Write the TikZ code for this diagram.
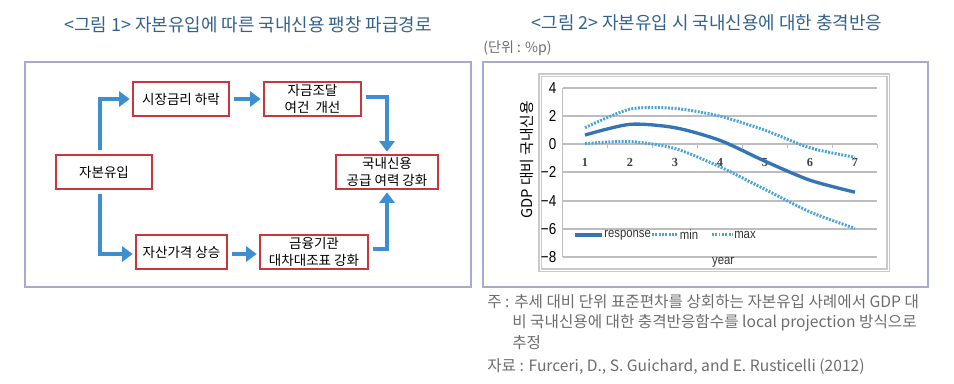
\documentclass[tikz,border=0pt]{standalone}
\usepackage{fontspec}
\setmainfont{Noto Sans CJK KR}
\newfontfamily\chartfont[FakeStretch=0.85]{Liberation Sans}
\newfontfamily\catfont{Liberation Serif}
\usetikzlibrary{arrows.meta}
\definecolor{titleblue}{HTML}{33628F}
\definecolor{framelilac}{HTML}{A9A9D2}
\definecolor{boxred}{HTML}{C8363E}
\definecolor{flowblue}{HTML}{3D8FD1}
\definecolor{noteg}{HTML}{6D6D6D}
\definecolor{gridg}{HTML}{BDBDBD}
\definecolor{respblue}{HTML}{3575B5}
\definecolor{bandblue}{HTML}{4BA3DC}
\tikzset{%
  pathbox/.style={draw=boxred, line width=0.6pt, fill=white, align=center, inner sep=1pt, minimum height=0.68cm, font=\fontsize{7.7}{9.4}\selectfont},
  flow/.style={draw=flowblue, line width=2.8pt, -{Triangle[length=6pt,width=8.6pt]}, shorten <=2.3pt, shorten >=1.6pt},
  figtitle/.style={text=titleblue, font=\fontsize{10.2}{12}\selectfont},
  note/.style={anchor=west, text=noteg, inner sep=0pt, font=\fontsize{8.9}{11}\selectfont},
  grid/.style={draw=gridg, line width=1.1pt},
  ylab/.style={anchor=east, inner sep=0pt, font=\chartfont\fontsize{9}{10}\selectfont},
  catlab/.style={inner sep=0pt, text=black!75, font=\catfont\bfseries\fontsize{7}{8}\selectfont},
  legtext/.style={anchor=west, inner sep=0pt, text=black!80, font=\chartfont\fontsize{7.6}{9}\selectfont},
  resp/.style={draw=respblue, line width=1.9pt, line join=round},
  band/.style={draw=bandblue, line width=1.7pt, dash pattern=on 1.1pt off 0.8pt},
}
\begin{document}
\begin{tikzpicture}[x=0.02cm, y=-0.02cm]%
\useasboundingbox (0,0) rectangle (954,383);%
% titles
\node[figtitle] (t1) at (248,25) {<그림 1> 자본유입에 따른 국내신용 팽창 파급경로};%
\node[figtitle] (t2) at (707,23) {<그림 2> 자본유입 시 국내신용에 대한 충격반응};%
\node[anchor=west, inner sep=0pt, text=noteg, font=\fontsize{8}{9}\selectfont] (unit) at (483,48) {(단위 : \%p)};%
% frames
\draw[framelilac, line width=0.9pt] (25,62) rectangle (471,287);%
\draw[framelilac, line width=0.9pt] (483,62) rectangle (928,287);%
% left: transmission path
\node[pathbox, minimum width=1.92cm] (rate) at (181,99) {시장금리 하락};%
\node[pathbox, minimum width=1.94cm] (fund) at (312.5,99) {자금조달\\여건~ 개선};%
\node[pathbox, minimum width=1.92cm] (inflow) at (104,172) {자본유입};%
\node[pathbox, minimum width=2.04cm] (credit) at (387,172) {국내신용\\공급 여력 강화};%
\node[pathbox, minimum width=1.82cm] (asset) at (181.5,252) {자산가격 상승};%
\node[pathbox, minimum width=2.16cm] (bank) at (314,252) {금융기관\\대차대조표 강화};%
\draw[flow] ([xshift=-0.08cm]inflow.north) |- (rate.west);%
\draw[flow] (rate.east) -- (fund.west);%
\draw[flow] ([yshift=0.04cm]fund.east) -| (credit.north);%
\draw[flow] ([xshift=-0.08cm]inflow.south) |- ([yshift=-0.04cm]asset.west);%
\draw[flow] ([yshift=-0.04cm]asset.east) -- ([yshift=-0.04cm]bank.west);%
\draw[flow] ([yshift=0.06cm]bank.east) -| (credit.south);%
% right: impulse response chart
\draw[gridg!80, line width=0.8pt, double=white, double distance=0.5pt] (540,75) rectangle (888,270);%
\node[rotate=90, inner sep=0pt, font=\fontsize{8.4}{9}\selectfont] (ytitle) at (527,160) {GDP 대비 국내신용};%
\begin{scope}[shift={(585,144.3)}, x=0.9cm, y=0.2816cm]%
\foreach \v/\t in {4/4,2/2,0/0,-2/−2,-4/−4,-6/−6,-8/−8}{%
  \draw[grid] (-0.5,\v) -- (6.49,\v);%
  \node[ylab] (y\v) at (-0.63,\v) {\t};%
}%
\draw[gridg, line width=0.9pt] (-0.5,-8) -- (-0.5,4);%
\foreach \k in {0.5,1.5,...,6.5}{\draw[gridg, line width=0.6pt] (\k,0) -- (\k,-0.28);}%
\foreach \k in {1,...,7}{\node[catlab] (c\k) at (\k-1,-1.26) {\k};}%
\draw[band] plot[smooth, tension=0.45] coordinates {(0,1.18) (1,2.5) (2,2.55) (3,2.0) (4,1.0) (5,-0.25) (6,-0.92)};%
\draw[band] plot[smooth, tension=0.45] coordinates {(0,0.05) (1,0.2) (2,-0.3) (3,-1.6) (4,-3.2) (5,-4.8) (6,-5.97)};%
\draw[resp] plot[smooth, tension=0.45] coordinates {(0,0.66) (1,1.42) (2,1.18) (3,0.28) (4,-1.2) (5,-2.55) (6,-3.4)};%
% legend
\draw[resp] (-0.22,-6.44) -- (0.38,-6.44);%
\node[legtext] (lresp) at (0.42,-6.44) {response};%
\draw[band] (1.49,-6.44) -- (2.04,-6.44);%
\node[legtext] (lmin) at (2.1,-6.44) {min};%
\draw[band] (2.82,-6.44) -- (3.27,-6.44);%
\node[legtext] (lmax) at (3.31,-6.44) {max};%
\node[legtext, anchor=center] (xtitle) at (3.07,-8.4) {year};%
\end{scope}%
% notes
\node[note] (n1) at (487,302) {주 : 추세 대비 단위 표준편차를 상회하는 자본유입 사례에서 GDP 대};%
\node[note] (n2) at (512,323) {비 국내신용에 대한 충격반응함수를 local projection 방식으로};%
\node[note] (n3) at (512,343) {추정};%
\node[note] (n4) at (487,367) {자료 : Furceri, D., S. Guichard, and E. Rusticelli (2012)};%
\end{tikzpicture}
\end{document}
